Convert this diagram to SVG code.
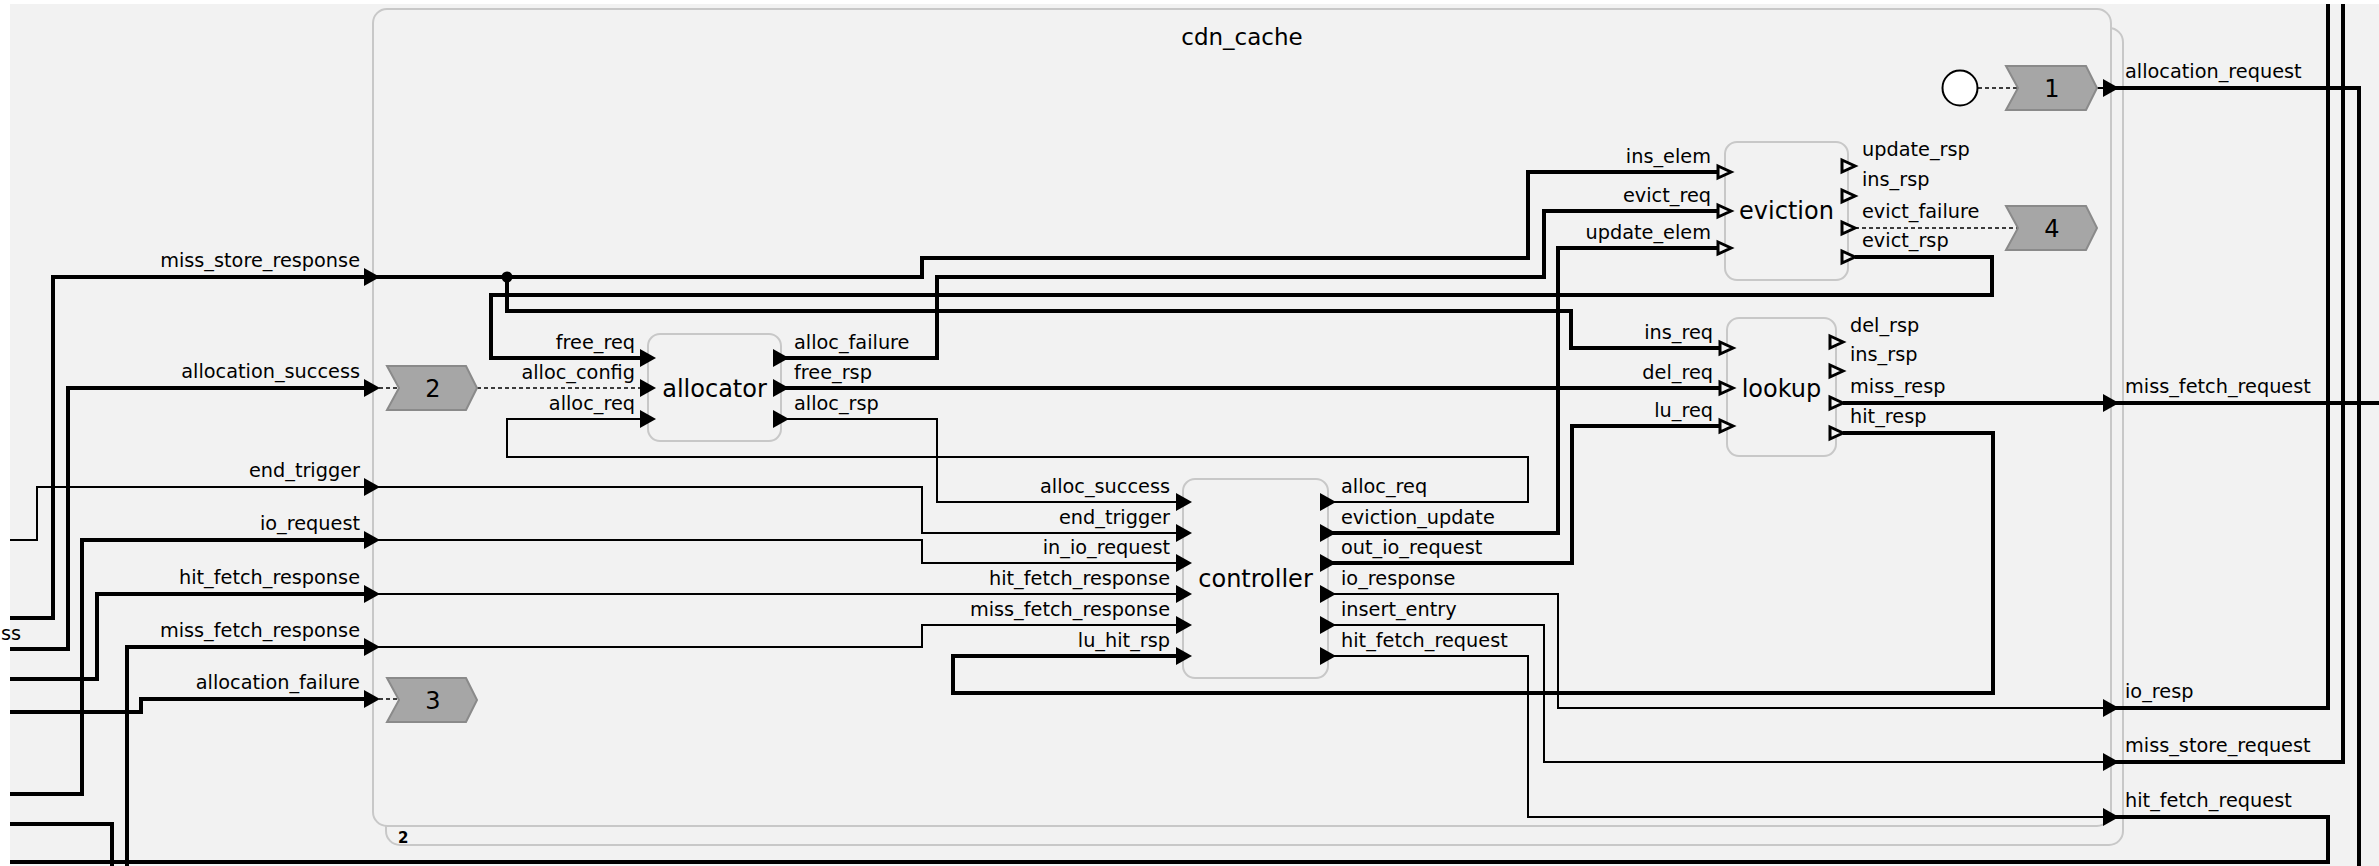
<svg xmlns="http://www.w3.org/2000/svg" xmlns:xlink="http://www.w3.org/1999/xlink" width="2379" height="866" viewBox="0 0 2379 866">
<style>
.frame{fill:#f2f2f2;stroke:#c8c8c8;stroke-width:2}
.box{fill:#f2f2f2;stroke:#c8c8c8;stroke-width:2}
.chev{fill:#a6a6a6;stroke:#8a8a8a;stroke-width:2}
.thick{fill:none;stroke:#000;stroke-width:4}
.thin{fill:none;stroke:#000;stroke-width:2}
.dash{fill:none;stroke:#000;stroke-width:1.6;stroke-dasharray:4 3}
text{font-family:"DejaVu Sans",sans-serif;fill:#000}
.lbl{font-size:19.3px}
.r{text-anchor:end}
.title{font-size:24px;text-anchor:middle}
.num{font-size:24px;text-anchor:middle}
</style>
<defs>
<path id="fa" d="M-8,-9L8,0L-8,9Z" fill="#000"/>
<path id="ha" d="M-6,-6L7,0L-6,6Z" fill="#f2f2f2" stroke="#000" stroke-width="3"/>
<clipPath id="clip"><rect x="10" y="4" width="2369" height="862"/></clipPath>
</defs>
<rect x="0" y="0" width="2379" height="866" fill="#ffffff"/>
<rect x="10" y="4" width="2369" height="862" fill="#f2f2f2"/>

<g id="cdn_cache">
<rect class="frame" x="386" y="28" width="1737" height="817" rx="14"/>
<rect class="frame" x="373" y="9" width="1738" height="817" rx="14"/>
<text class="title" x="1242" y="45" style="font-size:23px">cdn_cache</text>
<text x="398" y="843" style="font-size:15px;font-weight:bold">2</text>
</g>

<g id="connectors" clip-path="url(#clip)">
<path class="thick" d="M0,618H53V277H372"/>
<path class="thick" d="M372,277H922V258H1528V172H1718"/>
<path class="thick" d="M507,277V311H1571V348H1720"/>
<circle cx="507" cy="277" r="5.5" fill="#000"/>
<path class="thick" d="M1855,257H1992V295H491V358H647"/>
<path class="thick" d="M780,358H937V277H1544V211H1718"/>
<path class="thick" d="M780,388H1720"/>
<path class="thin" d="M780,419H937V502H1184"/>
<path class="thin" d="M1328,502H1528V457H507V419H647"/>
<path class="thick" d="M1328,533H1558V248H1718"/>
<path class="thick" d="M1328,563H1572V426H1720"/>
<path class="thin" d="M1328,594H1558V708H2111"/>
<path class="thick" d="M2111,708H2328V0"/>
<path class="thin" d="M1328,625H1544V762H2111"/>
<path class="thick" d="M2111,762H2343V0"/>
<path class="thin" d="M1328,656H1528V817H2111"/>
<path class="thick" d="M2111,817H2328V862H0"/>
<path class="thick" d="M1843,433H1993V693H953V656H1184"/>
<path class="thick" d="M1843,403H2379"/>
<path class="thick" d="M2111,88H2359V866"/>
<path class="thin" d="M2097,88H2111"/>
<path class="thick" d="M0,649H68V388H372"/>
<path class="dash" d="M372,388H399M477,388H647"/>
<path class="thin" d="M0,540H37V487H922V533H1184"/>
<path class="thick" d="M0,794H82V540H372"/>
<path class="thin" d="M372,540H922V563H1184"/>
<path class="thick" d="M0,679H97V594H372"/>
<path class="thin" d="M372,594H1184"/>
<path class="thick" d="M127,866V647H372"/>
<path class="thin" d="M372,647H922V625H1184"/>
<path class="thick" d="M0,712H141V699H372"/>
<path class="dash" d="M372,699H399"/>
<path class="thick" d="M0,824H112V866"/>
<path class="dash" d="M1978,88H2018"/>
<path class="dash" d="M1855,228H2018"/>
</g>
<text class="lbl r" x="21" y="640">ss</text>

<g id="cdn_cache_ports">
<use xlink:href="#fa" x="372" y="277"/>
<use xlink:href="#fa" x="372" y="388"/>
<use xlink:href="#fa" x="372" y="487"/>
<use xlink:href="#fa" x="372" y="540"/>
<use xlink:href="#fa" x="372" y="594"/>
<use xlink:href="#fa" x="372" y="647"/>
<use xlink:href="#fa" x="372" y="699"/>
<text class="lbl r" x="360" y="267">miss_store_response</text>
<text class="lbl r" x="360" y="378">allocation_success</text>
<text class="lbl r" x="360" y="477">end_trigger</text>
<text class="lbl r" x="360" y="530">io_request</text>
<text class="lbl r" x="360" y="584">hit_fetch_response</text>
<text class="lbl r" x="360" y="637">miss_fetch_response</text>
<text class="lbl r" x="360" y="689">allocation_failure</text>
<use xlink:href="#fa" x="2111" y="88"/>
<use xlink:href="#fa" x="2111" y="403"/>
<use xlink:href="#fa" x="2111" y="708"/>
<use xlink:href="#fa" x="2111" y="762"/>
<use xlink:href="#fa" x="2111" y="817"/>
<text class="lbl" x="2125" y="78">allocation_request</text>
<text class="lbl" x="2125" y="393">miss_fetch_request</text>
<text class="lbl" x="2125" y="698">io_resp</text>
<text class="lbl" x="2125" y="752">miss_store_request</text>
<text class="lbl" x="2125" y="807">hit_fetch_request</text>
</g>

<g id="allocator">
<rect class="box" x="648" y="334" width="133" height="107" rx="12"/>
<text class="title" x="714.5" y="397">allocator</text>
<use xlink:href="#fa" x="648" y="358"/>
<use xlink:href="#fa" x="648" y="388"/>
<use xlink:href="#fa" x="648" y="419"/>
<text class="lbl r" x="635" y="349">free_req</text>
<text class="lbl r" x="635" y="379">alloc_config</text>
<text class="lbl r" x="635" y="410">alloc_req</text>
<use xlink:href="#fa" x="781" y="358"/>
<use xlink:href="#fa" x="781" y="388"/>
<use xlink:href="#fa" x="781" y="419"/>
<text class="lbl" x="794" y="349">alloc_failure</text>
<text class="lbl" x="794" y="379">free_rsp</text>
<text class="lbl" x="794" y="410">alloc_rsp</text>
</g>

<g id="controller">
<rect class="box" x="1183" y="479" width="145" height="199" rx="12"/>
<text class="title" x="1255.5" y="587">controller</text>
<use xlink:href="#fa" x="1184" y="502"/>
<use xlink:href="#fa" x="1184" y="533"/>
<use xlink:href="#fa" x="1184" y="563"/>
<use xlink:href="#fa" x="1184" y="594"/>
<use xlink:href="#fa" x="1184" y="625"/>
<use xlink:href="#fa" x="1184" y="656"/>
<text class="lbl r" x="1170" y="493">alloc_success</text>
<text class="lbl r" x="1170" y="524">end_trigger</text>
<text class="lbl r" x="1170" y="554">in_io_request</text>
<text class="lbl r" x="1170" y="585">hit_fetch_response</text>
<text class="lbl r" x="1170" y="616">miss_fetch_response</text>
<text class="lbl r" x="1170" y="647">lu_hit_rsp</text>
<use xlink:href="#fa" x="1328" y="502"/>
<use xlink:href="#fa" x="1328" y="533"/>
<use xlink:href="#fa" x="1328" y="563"/>
<use xlink:href="#fa" x="1328" y="594"/>
<use xlink:href="#fa" x="1328" y="625"/>
<use xlink:href="#fa" x="1328" y="656"/>
<text class="lbl" x="1341" y="493">alloc_req</text>
<text class="lbl" x="1341" y="524">eviction_update</text>
<text class="lbl" x="1341" y="554">out_io_request</text>
<text class="lbl" x="1341" y="585">io_response</text>
<text class="lbl" x="1341" y="616">insert_entry</text>
<text class="lbl" x="1341" y="647">hit_fetch_request</text>
</g>

<g id="eviction">
<rect class="box" x="1725" y="142" width="123" height="138" rx="12"/>
<text class="title" x="1786.5" y="219">eviction</text>
<use xlink:href="#ha" x="1724" y="172"/>
<use xlink:href="#ha" x="1724" y="211"/>
<use xlink:href="#ha" x="1724" y="248"/>
<text class="lbl r" x="1711" y="163">ins_elem</text>
<text class="lbl r" x="1711" y="202">evict_req</text>
<text class="lbl r" x="1711" y="239">update_elem</text>
<use xlink:href="#ha" x="1848" y="166"/>
<use xlink:href="#ha" x="1848" y="196"/>
<use xlink:href="#ha" x="1848" y="228"/>
<use xlink:href="#ha" x="1848" y="257"/>
<text class="lbl" x="1862" y="156">update_rsp</text>
<text class="lbl" x="1862" y="186">ins_rsp</text>
<text class="lbl" x="1862" y="218">evict_failure</text>
<text class="lbl" x="1862" y="247">evict_rsp</text>
</g>

<g id="lookup">
<rect class="box" x="1727" y="318" width="109" height="138" rx="12"/>
<text class="title" x="1781.5" y="397">lookup</text>
<use xlink:href="#ha" x="1726" y="348"/>
<use xlink:href="#ha" x="1726" y="388"/>
<use xlink:href="#ha" x="1726" y="426"/>
<text class="lbl r" x="1713" y="339">ins_req</text>
<text class="lbl r" x="1713" y="379">del_req</text>
<text class="lbl r" x="1713" y="417">lu_req</text>
<use xlink:href="#ha" x="1836" y="342"/>
<use xlink:href="#ha" x="1836" y="371"/>
<use xlink:href="#ha" x="1836" y="403"/>
<use xlink:href="#ha" x="1836" y="433"/>
<text class="lbl" x="1850" y="332">del_rsp</text>
<text class="lbl" x="1850" y="361">ins_rsp</text>
<text class="lbl" x="1850" y="393">miss_resp</text>
<text class="lbl" x="1850" y="423">hit_resp</text>
</g>

<g id="chevron_1">
<polygon class="chev" points="2006,66 2086,66 2097,88 2086,110 2006,110 2018,88"/>
<text class="num" x="2052" y="97">1</text>
</g>
<g id="chevron_2">
<polygon class="chev" points="387,366 466,366 477,388 466,410 387,410 399,388"/>
<text class="num" x="433" y="397">2</text>
</g>
<g id="chevron_3">
<polygon class="chev" points="387,678 466,678 477,700 466,722 387,722 399,700"/>
<text class="num" x="433" y="709">3</text>
</g>
<g id="chevron_4">
<polygon class="chev" points="2006,206 2086,206 2097,228 2086,250 2006,250 2018,228"/>
<text class="num" x="2052" y="237">4</text>
</g>
<g id="start">
<circle cx="1960" cy="88" r="17.5" fill="#fff" stroke="#000" stroke-width="2"/>
</g>
</svg>
